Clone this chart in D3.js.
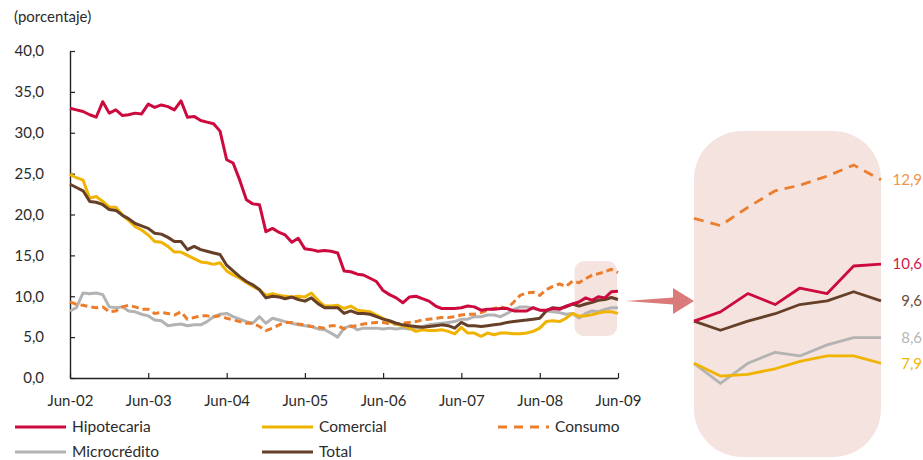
<!DOCTYPE html>
<html lang="es">
<head>
<meta charset="utf-8">
<script src="https://cdn.jsdelivr.net/npm/d3@7"></script>
<style>
  html, body { margin: 0; padding: 0; background: #fff; }
  svg { display: block; font-family: Lato, "Open Sans", sans-serif; }
</style>
</head>
<body>
<svg id="chart" width="923" height="460"></svg>
<script>
// Monthly series, Jun-2002 .. Jun-2009 (85 observations, percent)
const startMonth = new Date(2002, 5, 1);
const xTickLabels = ["Jun-02", "Jun-03", "Jun-04", "Jun-05", "Jun-06", "Jun-07", "Jun-08", "Jun-09"];
const yTicks = [0, 5, 10, 15, 20, 25, 30, 35, 40];

const hipotecaria = [
  33.0, 32.8, 32.6, 32.2, 31.9, 33.8, 32.4, 32.8, 32.1, 32.2,
  32.4, 32.3, 33.5, 33.1, 33.4, 33.2, 32.8, 33.9, 31.9, 32.0,
  31.5, 31.3, 31.1, 30.2, 26.7, 26.3, 24.2, 21.8, 21.3, 21.2,
  17.9, 18.3, 17.8, 17.5, 16.6, 17.1, 15.8, 15.7, 15.5, 15.6,
  15.5, 15.3, 13.1, 13.0, 12.7, 12.6, 12.2, 11.8, 10.7, 10.2,
  9.8, 9.2, 9.9, 10.0, 9.7, 9.4, 8.8, 8.5, 8.5, 8.5,
  8.6, 8.8, 8.7, 8.3, 8.4, 8.4, 8.5, 8.5, 8.2, 8.2,
  8.2, 8.6, 8.3, 8.3, 8.5, 8.4, 8.8,
  9.05, 9.3, 9.8, 9.5, 9.95, 9.8, 10.55, 10.6
];
const comercial = [
  24.9, 24.5, 24.2, 22.0, 22.2, 21.6, 20.9, 20.9, 19.9, 19.3,
  18.5, 18.1, 17.5, 16.7, 16.6, 16.1, 15.4, 15.4, 15.0, 14.6,
  14.2, 14.1, 13.9, 14.1, 13.1, 12.6, 12.2, 11.7, 11.2, 10.8,
  10.1, 10.3, 10.1, 10.0, 9.9, 10.0, 9.9, 10.4, 9.5, 8.8,
  8.8, 8.9, 8.5, 8.8, 8.3, 8.2, 8.1, 7.7, 7.3, 6.9,
  6.6, 6.4, 6.1, 5.7, 5.9, 5.8, 5.8, 5.9, 5.7, 5.4,
  6.2, 5.5, 5.5, 5.1, 5.5, 5.3, 5.5, 5.5, 5.4, 5.4,
  5.5, 5.7, 6.1, 6.9, 7.0, 6.9, 7.3,
  7.9, 7.55, 7.6, 7.75, 7.95, 8.1, 8.1, 7.9
];
const consumo = [
  9.3, 9.0, 8.9, 8.7, 8.6, 8.7, 8.1, 8.2, 8.7, 8.9,
  8.7, 8.4, 8.4, 7.9, 8.0, 7.9, 7.7, 8.1, 7.2, 7.4,
  7.6, 7.6, 7.5, 7.6, 7.3, 7.1, 6.9, 6.7, 6.7, 6.3,
  5.8, 6.1, 6.5, 6.8, 6.8, 6.6, 6.5, 6.3, 6.2, 6.1,
  6.4, 6.4, 6.0, 6.3, 6.4, 6.6, 6.7, 6.8, 6.8, 6.6,
  6.6, 6.7, 6.8, 6.9, 7.1, 7.2, 7.3, 7.4, 7.4, 7.5,
  7.7, 7.8, 7.8, 8.0, 8.3, 8.5, 8.7, 8.5, 9.3, 10.1,
  10.4, 10.5, 10.1, 10.8, 11.2, 11.5, 11.2,
  11.85, 11.65, 12.15, 12.6, 12.75, 13.0, 13.3, 12.9
];
const microcredito = [
  8.2, 8.6, 10.4, 10.3, 10.4, 10.2, 8.7, 8.6, 8.7, 8.2,
  8.1, 7.8, 7.6, 7.1, 7.0, 6.4, 6.5, 6.6, 6.4, 6.5,
  6.5, 6.9, 7.5, 7.8, 7.9, 7.5, 7.2, 6.9, 6.7, 7.5,
  6.7, 7.3, 7.1, 6.9, 6.7, 6.5, 6.4, 6.3, 6.0, 5.9,
  5.5, 5.0, 6.1, 6.4, 5.9, 6.1, 6.1, 6.1, 6.0, 6.1,
  6.0, 6.1, 6.0, 6.1, 6.3, 6.5, 6.6, 6.7, 6.8, 6.9,
  7.2, 7.2, 7.5, 7.5, 7.7, 7.7, 7.5, 7.9, 8.4, 8.7,
  8.7, 8.5, 8.3, 8.2, 8.1, 8.0, 7.8,
  7.9, 7.35, 7.9, 8.2, 8.1, 8.4, 8.6, 8.6
];
const total = [
  23.7, 23.3, 22.9, 21.6, 21.5, 21.2, 20.6, 20.5, 19.9, 19.5,
  18.9, 18.6, 18.3, 17.7, 17.6, 17.2, 16.7, 16.7, 15.7, 16.1,
  15.7, 15.5, 15.3, 15.1, 13.8, 13.1, 12.4, 11.8, 11.4, 10.8,
  9.8, 10.0, 9.9, 9.7, 9.9, 9.6, 9.4, 9.8, 9.1, 8.6,
  8.6, 8.6, 7.9, 8.2, 7.9, 7.9, 7.8, 7.5, 7.2, 7.0,
  6.7, 6.5, 6.4, 6.3, 6.2, 6.3, 6.4, 6.5, 6.4, 6.1,
  6.8, 6.4, 6.4, 6.3, 6.4, 6.5, 6.6, 6.8, 6.9, 7.0,
  7.1, 7.2, 7.3, 8.2, 8.6, 8.5, 8.7,
  9.05, 8.8, 9.05, 9.25, 9.5, 9.6, 9.85, 9.6
];

const seriesNames = ["Hipotecaria", "Comercial", "Consumo", "Microcrédito", "Total"];
const seriesValues = [hipotecaria, comercial, consumo, microcredito, total];
const seriesColors = ["#cc0a3e", "#efb300", "#ec7d2c", "#b3b3b3", "#653f27"];
const labelColors  = ["#d4184a", "#f2b500", "#f0924a", "#b7b7b7", "#6e4c3a"];
const seriesDashed = [false, false, true, false, false];
const zoomCount = 8; // months shown in the enlarged panel

const months = seriesValues[0].map((_, i) => d3.timeMonth.offset(startMonth, i));
const series = seriesNames.map((name, k) => ({
  name, color: seriesColors[k], labelColor: labelColors[k], dashed: seriesDashed[k],
  points: seriesValues[k].map((v, i) => ({ date: months[i], value: v }))
}));

const locale = d3.formatLocale({ decimal: ",", thousands: ".", grouping: [3], currency: ["", ""] });
const fmt1 = locale.format(".1f");

const svg = d3.select("#chart");
const textColor = "#2b2b2b";

// ---- main panel scales
const x = d3.scaleTime().domain([months[0], months[months.length - 1]]).range([70, 618]);
const y = d3.scaleLinear().domain([0, 40]).range([378, 51]);

svg.append("text")
  .attr("x", 14).attr("y", 22)
  .attr("font-size", 15).attr("fill", textColor)
  .text("(porcentaje)");

// highlight of the last months
const tail = series.flatMap(s => s.points.slice(-zoomCount).map(p => p.value));
const hlX0 = x(months[months.length - zoomCount]) + 2;
const hlX1 = x(months[months.length - 1]) - 1;
svg.append("rect")
  .attr("x", hlX0).attr("y", y(d3.max(tail)) - 8)
  .attr("width", hlX1 - hlX0)
  .attr("height", y(d3.min(tail)) + 18 - (y(d3.max(tail)) - 8))
  .attr("rx", 9)
  .attr("fill", "#f4e3de");

// axes
const yAxis = d3.axisLeft(y).tickValues(yTicks).tickSizeInner(-5).tickSizeOuter(0)
  .tickPadding(26).tickFormat(fmt1);
const gy = svg.append("g").attr("transform", `translate(${x.range()[0]},0)`).call(yAxis);
gy.selectAll("text").attr("font-size", 15).attr("fill", textColor).attr("font-family", "Lato, sans-serif");

const xTickDates = months.filter(d => d.getMonth() === 5);
const xAxis = d3.axisBottom(x).tickValues(xTickDates).tickSizeInner(-5).tickSizeOuter(0)
  .tickPadding(17).tickFormat((d, i) => xTickLabels[i]);
const gx = svg.append("g").attr("transform", `translate(0,${y(0)})`).call(xAxis);
gx.selectAll("text").attr("font-size", 15).attr("fill", textColor).attr("font-family", "Lato, sans-serif");

[gx, gy].forEach(g => {
  g.select(".domain").attr("stroke", "#222").attr("stroke-width", 1.4);
  g.selectAll(".tick line").attr("stroke", "#222").attr("stroke-width", 1.2);
});

// lines
const line = d3.line().x(d => x(d.date)).y(d => y(d.value));
const drawOrder = [3, 2, 1, 4, 0];
svg.append("g").selectAll("path")
  .data(drawOrder.map(i => series[i]))
  .join("path")
  .attr("d", d => line(d.points))
  .attr("fill", "none")
  .attr("stroke", d => d.color)
  .attr("stroke-width", 3)
  .attr("stroke-linejoin", "round")
  .attr("stroke-dasharray", d => d.dashed ? "7,4" : null);

// ---- arrow pointing to the enlarged panel
const inX0 = 694, inX1 = 881;
const arrowY = 301;
svg.append("path")
  .attr("d", d3.line()([[626, arrowY], [673, arrowY - 3.5], [673, arrowY - 13], [inX0, arrowY],
                        [673, arrowY + 13], [673, arrowY + 3.5]]) + "Z")
  .attr("fill", "#db7b79");

// ---- enlarged panel
svg.append("rect")
  .attr("x", inX0).attr("y", 131)
  .attr("width", inX1 - inX0).attr("height", 326)
  .attr("rx", 48).attr("ry", 48)
  .attr("fill", "#f4e3de");

const zMonths = months.slice(-zoomCount);
const xz = d3.scaleTime().domain([zMonths[0], zMonths[zMonths.length - 1]]).range([inX0, inX1]);
const yz = d3.scaleLinear().domain([6, 14]).range([433.0, 139.4]);
const lineZ = d3.line().x(d => xz(d.date)).y(d => yz(d.value));

svg.append("g").selectAll("path")
  .data(drawOrder.map(i => series[i]))
  .join("path")
  .attr("d", d => lineZ(d.points.slice(-zoomCount)))
  .attr("fill", "none")
  .attr("stroke", d => d.color)
  .attr("stroke-width", 2.8)
  .attr("stroke-linejoin", "round")
  .attr("stroke-dasharray", d => d.dashed ? "10,7" : null);

svg.append("g").selectAll("text")
  .data(series)
  .join("text")
  .attr("x", 922)
  .attr("y", d => yz(d.points[d.points.length - 1].value))
  .attr("dy", "0.35em")
  .attr("text-anchor", "end")
  .attr("font-size", 15)
  .attr("fill", d => d.labelColor)
  .text(d => fmt1(d.points[d.points.length - 1].value));

// ---- legend
const legendPos = [[15, 427], [262, 427], [498, 427], [15, 452], [262, 452]];
const lg = svg.append("g").selectAll("g")
  .data(series)
  .join("g")
  .attr("transform", (d, i) => `translate(${legendPos[i][0]},${legendPos[i][1]})`);
lg.append("line")
  .attr("x1", 0).attr("x2", 51).attr("y1", 0).attr("y2", 0)
  .attr("stroke", d => d.color)
  .attr("stroke-width", 3.2)
  .attr("stroke-dasharray", d => d.dashed ? "9,7" : null);
lg.append("text")
  .attr("x", 57).attr("y", 0).attr("dy", "0.35em")
  .attr("font-size", 15.5).attr("fill", textColor)
  .text(d => d.name);
</script>
</body>
</html>
